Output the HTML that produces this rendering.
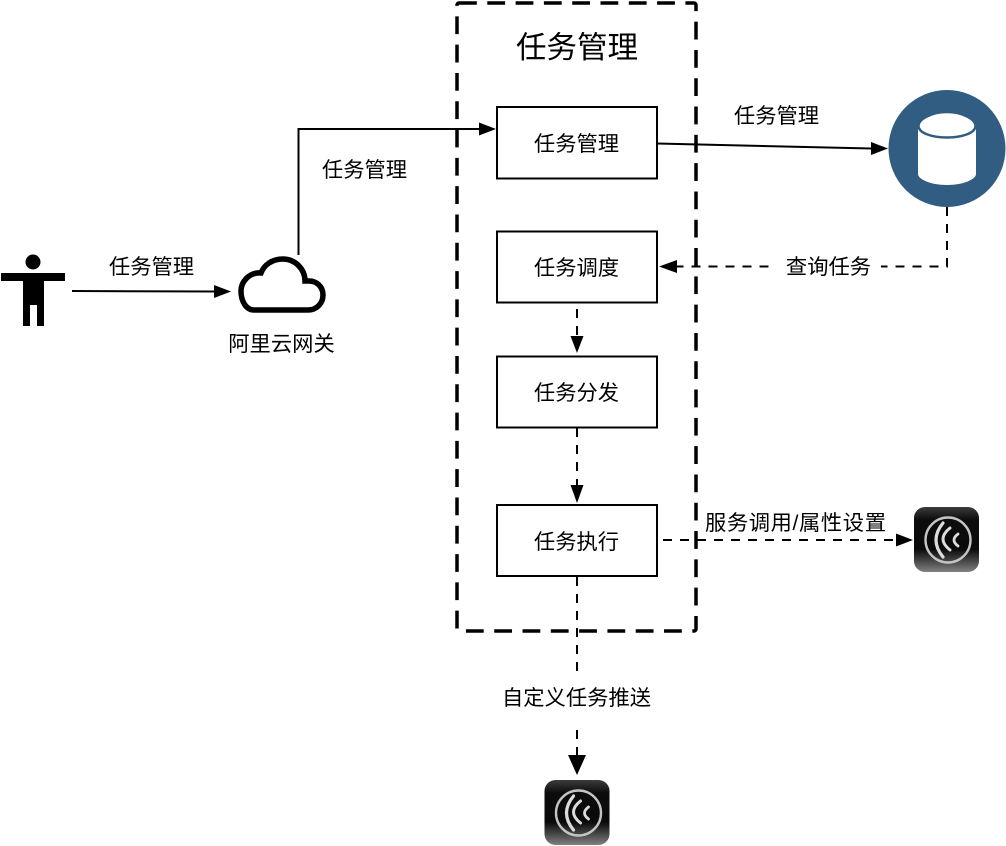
<!DOCTYPE html>
<html><head><meta charset="utf-8"><style>
html,body{margin:0;padding:0;background:#fff}
svg{display:block}
text{font-family:"Liberation Sans","Noto Sans CJK SC",sans-serif;font-size:21.3px;fill:#000;text-anchor:middle}
</style></head><body>
<svg width="1006" height="846" viewBox="0 0 1006 846" xmlns="http://www.w3.org/2000/svg">
<defs>
<linearGradient id="g2" x1="0" y1="0" x2="0" y2="1"><stop offset="0" stop-color="#3c3c3c"/><stop offset=".2" stop-color="#0c0c0c"/><stop offset=".65" stop-color="#0a0a0a"/><stop offset="1" stop-color="#808080"/></linearGradient>
<g id="icon">
<rect x="0" y="0" width="65" height="65" rx="11" fill="url(#g2)"/>
<circle cx="34" cy="33" r="22.500" fill="none" stroke="#c4c4c4" stroke-width="2.400"/>
<g fill="none" stroke="#dcdcdc" stroke-linecap="round">
<path d="M29 16 Q15 33 29 50" stroke-width="3.200"/>
<path d="M36 21 Q22 32 36 43" stroke-width="3"/>
<path d="M44 27 Q36 33 44 39" stroke-width="2.800"/>
</g>
</g>
</defs>

<!-- container -->
<rect x="457" y="3" width="239" height="628" rx="2" fill="none" stroke="#000" stroke-width="3.500" stroke-dasharray="17.800 10.500" stroke-dashoffset="0"/>
<text x="577" y="58" style="font-size:30.500px">任务管理</text>

<!-- boxes -->
<g fill="#fff" stroke="#000" stroke-width="2">
<rect x="497" y="107" width="160" height="71.500"/>
<rect x="497" y="231.500" width="160" height="71"/>
<rect x="497" y="356.500" width="160" height="71"/>
<rect x="497" y="505" width="160" height="71"/>
</g>
<text x="576.500" y="151">任务管理</text>
<text x="576.500" y="275">任务调度</text>
<text x="576.500" y="400">任务分发</text>
<text x="576.500" y="549">任务执行</text>

<!-- person -->
<g fill="#000">
<circle cx="33" cy="262" r="7.500"/>
<rect x="1" y="273" width="64" height="8"/>
<path d="M23 273 H44 V326 H37 V305 H30 V326 H23 Z"/>
</g>

<!-- cloud -->
<path d="M254 310 H308 C317 310 323 303 323 295 C323 287 317 281 309 281 H305 C305 269 295 259 283 259 C272 259 264 265 261 273 C249 272 241 282 241 291 C241 301 246 310 254 310 Z" fill="#fff" stroke="#000" stroke-width="5.500"/>
<text x="281.500" y="351">阿里云网关</text>

<!-- database -->
<circle cx="947" cy="148.500" r="58.500" fill="#325d82"/>
<path d="M918 126 V174 C918 179 930 185 947 185 C964 185 976 179 976 174 V126 Z" fill="#fff"/>
<path d="M918.500 126 C918.500 119 932 112 947 112 C962 112 975.500 119 975.500 126 C975.500 133 962 137.500 947 137.500 C932 137.500 918.500 133 918.500 126 Z" fill="#fff" stroke="#325d82" stroke-width="2.500"/>
<path d="M918 129 C920 136 933 141 947 141 C961 141 974 136 976 129 V134 C972 141 960 144 947 144 C934 144 922 141 918 134 Z" fill="#fff"/>

<!-- icons -->
<use href="#icon" x="914" y="507"/>
<use href="#icon" x="544.500" y="780"/>

<!-- connectors -->
<g fill="none" stroke="#000" stroke-width="2">
<path d="M72 291 L216 291.500"/>
<path d="M298.500 255 V129 H480"/>
<path d="M657 143.500 L871 148.500"/>
<path d="M947 207 V266.500 H676" stroke-dasharray="9 8"/>
<path d="M577 309 V338" stroke-dasharray="9 8"/>
<path d="M577 428 V488" stroke-dasharray="9 8"/>
<path d="M663 540 H898" stroke-dasharray="9 8"/>
<path d="M577 577 V758" stroke-dasharray="9 8"/>
</g>
<g fill="#000">
<path d="M231 291.500 L214 285 V298 Z"/>
<path d="M496 129 L479 122.500 V135.500 Z"/>
<path d="M888 148.500 L871 142 V155 Z"/>
<path d="M659 266.500 L677 260 V273 Z"/>
<path d="M577 353 L570.500 336 H583.500 Z"/>
<path d="M577 503 L570.500 485 H583.500 Z"/>
<path d="M913 540 L896 533.500 V546.500 Z"/>
<path d="M577 775 L568 755 H586 Z"/>
</g>

<!-- labels -->
<text x="151.500" y="274">任务管理</text>
<text x="364.500" y="177">任务管理</text>
<text x="776.500" y="123">任务管理</text>
<rect x="771" y="250" width="110" height="32" fill="#fff"/>
<text x="828.500" y="274">查询任务</text>
<text x="795.500" y="530" textLength="181" lengthAdjust="spacing">服务调用/属性设置</text>
<rect x="498" y="672" width="158" height="50" fill="#fff"/>
<text x="576.500" y="705">自定义任务推送</text>
</svg>
</body></html>
